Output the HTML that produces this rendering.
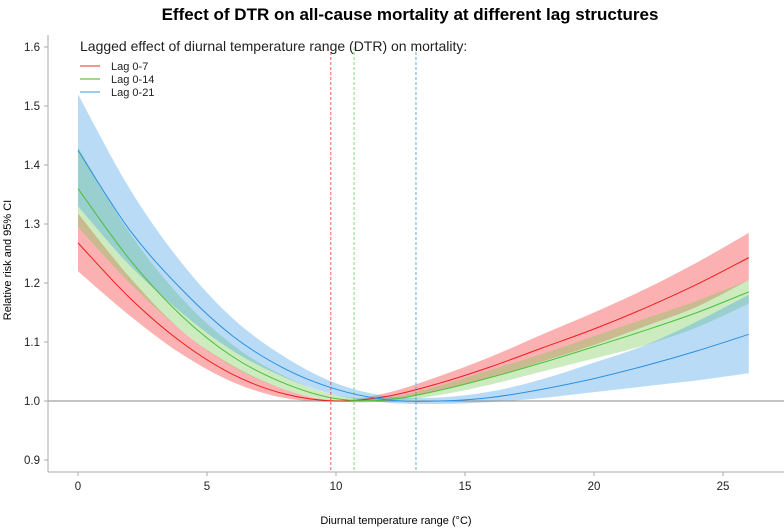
<!DOCTYPE html>
<html><head><meta charset="utf-8"><style>
body{margin:0;background:#fff;font-family:"Liberation Sans",Arial,sans-serif}
svg{display:block}
</style></head><body>
<svg id="chart" width="784" height="528" xmlns="http://www.w3.org/2000/svg">
<text x="410" y="20" text-anchor="middle" font-size="17" font-weight="bold" fill="#000">Effect of DTR on all-cause mortality at different lag structures</text>
<g id="bands"></g>
<g id="grid"></g>
<g id="lines"></g>
<g id="axes"></g>
<text transform="translate(11,260) rotate(-90)" text-anchor="middle" font-size="11" fill="#000">Relative risk and 95% CI</text>
<text x="396" y="524" text-anchor="middle" font-size="11" fill="#000">Diurnal temperature range (°C)</text>
<g>
<text x="80" y="51" font-size="14" fill="#222">Lagged effect of diurnal temperature range (DTR) on mortality:</text>
<line x1="80" y1="66" x2="100" y2="66" stroke="#e8302a" stroke-width="1"/>
<text x="111" y="70" font-size="11" fill="#222">Lag 0-7</text>
<line x1="80" y1="79" x2="100" y2="79" stroke="#9ed88a" stroke-width="2"/>
<text x="111" y="83" font-size="11" fill="#222">Lag 0-14</text>
<line x1="80" y1="92" x2="100" y2="92" stroke="#3a9ae0" stroke-width="1"/>
<text x="111" y="96" font-size="11" fill="#222">Lag 0-21</text>
</g>
</svg>
<script>
const xs=[0,2,4,6,8,10,12,14,16,18,20,22,24,26];
const redMid=[1.268,1.175,1.100,1.045,1.012,1.000,1.008,1.030,1.058,1.090,1.122,1.158,1.198,1.243];
const redLo=[1.220,1.145,1.080,1.032,1.005,0.999,1.002,1.018,1.040,1.067,1.095,1.127,1.160,1.205];
const redHi=[1.318,1.210,1.120,1.060,1.020,1.001,1.014,1.042,1.075,1.113,1.150,1.190,1.235,1.285];
const greenMid=[1.360,1.240,1.145,1.075,1.030,1.004,1.002,1.018,1.040,1.065,1.092,1.120,1.150,1.185];
const greenLo=[1.295,1.200,1.120,1.058,1.020,1.000,0.999,1.010,1.028,1.050,1.072,1.095,1.125,1.165];
const greenHi=[1.430,1.285,1.175,1.095,1.042,1.010,1.006,1.026,1.053,1.080,1.110,1.140,1.170,1.205];
const blueMid=[1.425,1.290,1.190,1.110,1.055,1.020,1.002,1.000,1.006,1.020,1.038,1.060,1.085,1.113];
const blueLo=[1.330,1.230,1.150,1.085,1.040,1.010,0.997,0.995,0.998,1.005,1.015,1.025,1.035,1.047];
const blueHi=[1.520,1.360,1.235,1.140,1.075,1.030,1.008,1.006,1.016,1.037,1.065,1.095,1.135,1.180];
const minX=[9.8,10.7,13.1];
const xTicks=[0,5,10,15,20,25];
const yTicks=[0.9,1.0,1.1,1.2,1.3,1.4,1.5,1.6];
const X=v=>78+v*25.8;
const Y=v=>401-(v-1)*590;
const NS="http://www.w3.org/2000/svg";
function mk(t,a,p){const e=document.createElementNS(NS,t);for(const k in a)e.setAttribute(k,a[k]);p.appendChild(e);return e;}
function curve(pts,move){let d=move?`M${pts[0][0]},${pts[0][1]}`:`L${pts[0][0]},${pts[0][1]}`;
for(let i=0;i<pts.length-1;i++){const p0=pts[Math.max(i-1,0)],p1=pts[i],p2=pts[i+1],p3=pts[Math.min(i+2,pts.length-1)];
const c1=[p1[0]+(p2[0]-p0[0])/6,p1[1]+(p2[1]-p0[1])/6],c2=[p2[0]-(p3[0]-p1[0])/6,p2[1]-(p3[1]-p1[1])/6];
d+=` C${c1[0]},${c1[1]} ${c2[0]},${c2[1]} ${p2[0]},${p2[1]}`;}return d;}
const bands=document.getElementById('bands'),lines=document.getElementById('lines'),axes=document.getElementById('axes'),grid=document.getElementById('grid');
const series=[["lag0-7",redMid,redLo,redHi,"rgba(246,70,70,0.42)","#ee1c1c"],["lag0-14",greenMid,greenLo,greenHi,"rgba(120,205,90,0.38)","#4cbf3a"],["lag0-21",blueMid,blueLo,blueHi,"rgba(70,160,230,0.38)","#2b8fe0"]];
series.forEach(s=>{
const hi=xs.map((x,i)=>[X(x),Y(s[3][i])]),lo=xs.map((x,i)=>[X(x),Y(s[2][i])]).reverse();
const b=mk('path',{d:curve(hi,true)+' '+curve(lo,false)+' Z',fill:s[4],stroke:'none'},bands);


const l=mk('path',{d:curve(xs.map((x,i)=>[X(x),Y(s[1][i])]),true),fill:'none',stroke:s[5],'stroke-width':1},lines);


});
const ref=mk('line',{x1:48,x2:784,y1:Y(1),y2:Y(1),stroke:'#888','stroke-width':1},grid);


const dcol=["#ee3333","#66cc55","#3399dd"];
minX.forEach((m,i)=>{const l=mk('line',{x1:X(m),x2:X(m),y1:47,y2:472,stroke:dcol[i],'stroke-width':0.8,'stroke-dasharray':'3,2'},grid);

});
mk('line',{x1:48,x2:48,y1:35,y2:472,stroke:'#aaa'},axes);
mk('line',{x1:48,x2:784,y1:472,y2:472,stroke:'#aaa'},axes);
yTicks.forEach(t=>{mk('line',{x1:44,x2:48,y1:Y(t),y2:Y(t),stroke:'#aaa'},axes);
const e=mk('text',{x:40,y:Y(t)+4,'text-anchor':'end','font-size':11.5,fill:'#222'},axes);e.textContent=t.toFixed(1);

});
xTicks.forEach(t=>{mk('line',{x1:X(t),x2:X(t),y1:472,y2:476,stroke:'#aaa'},axes);
const e=mk('text',{x:X(t),y:490,'text-anchor':'middle','font-size':11.5,fill:'#222'},axes);e.textContent=t;

});
</script>
</body></html>
